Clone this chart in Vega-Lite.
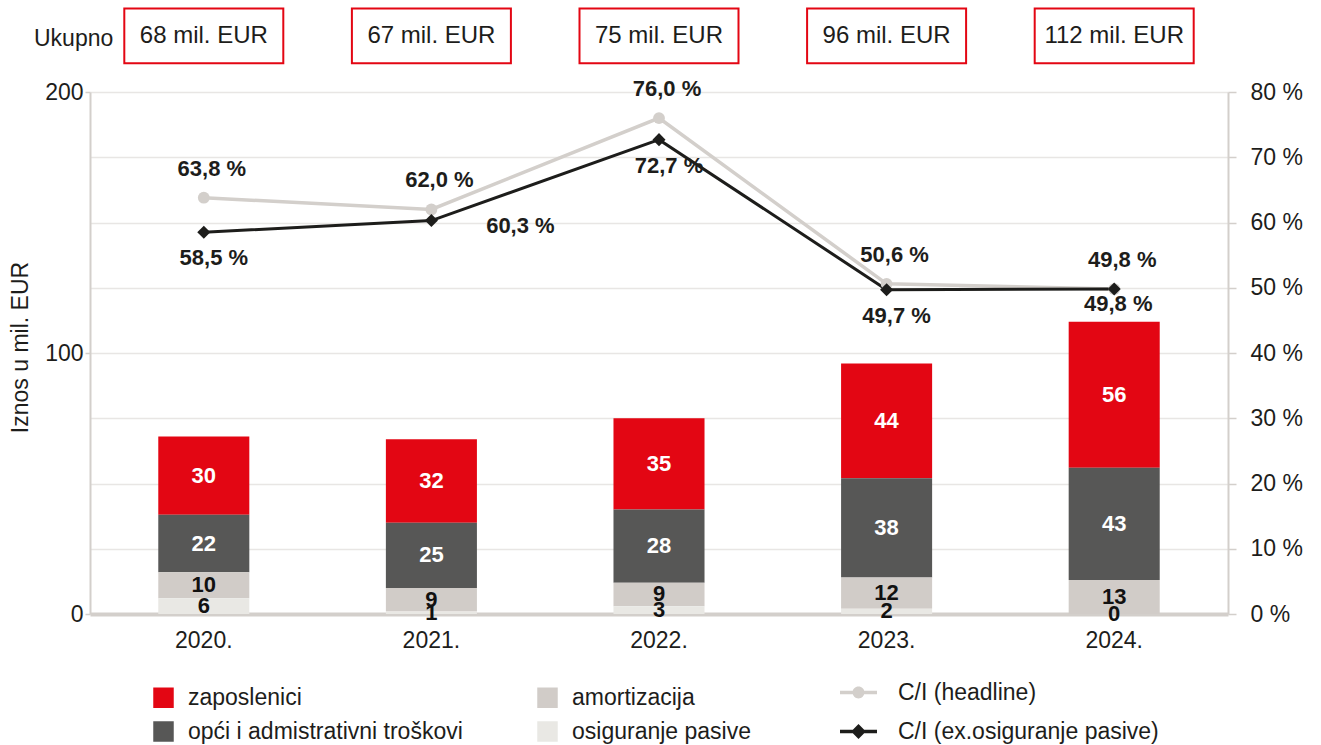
{
  "$schema": "https://vega.github.io/schema/vega-lite/v6.json",
  "width": 1138,
  "height": 522,
  "autosize": "none",
  "padding": {"left": 90, "top": 92, "right": 93, "bottom": 131},
  "background": "white",
  "config": {
    "font": "Liberation Sans",
    "view": {"stroke": null},
    "text": {"font": "Liberation Sans"},
    "axisX": {
      "labelAngle": 0, "ticks": false, "grid": false,
      "domainColor": "#d3cfcb", "domainWidth": 4,
      "labelFontSize": 23, "labelPadding": 15, "labelColor": "#1d1d1b"
    },
    "axisLeft": {
      "titleFontSize": 23, "titleFontWeight": "normal",
      "titleColor": "#1d1d1b", "titleX": -70, "titleY": 255, "titleAngle": -90,
      "titleAlign": "center", "titleBaseline": "middle",
      "domainColor": "#d3cfcb", "domainWidth": 2,
      "tickColor": "#d3cfcb", "tickSize": 5, "tickWidth": 1.5,
      "labelFontSize": 23, "labelColor": "#1d1d1b", "labelPadding": 2
    },
    "axisRight": {
      "gridColor": "#e8e6e4", "gridWidth": 1.5,
      "domainColor": "#d3cfcb", "domainWidth": 2,
      "tickColor": "#d3cfcb", "tickSize": 8, "tickWidth": 1.5,
      "labelFontSize": 23, "labelColor": "#1d1d1b", "labelPadding": 14
    }
  },
  "title": {
    "text": "Ukupno",
    "anchor": "start",
    "frame": "group",
    "orient": "top",
    "fontSize": 23,
    "fontWeight": "normal",
    "color": "#1d1d1b",
    "dx": -56,
    "offset": -44
  },
  "datasets": {
    "costs": [
      {"year": "2020.", "component": "zaposlenici", "value": 30},
      {"year": "2020.", "component": "opći i admistrativni troškovi", "value": 22},
      {"year": "2020.", "component": "amortizacija", "value": 10},
      {"year": "2020.", "component": "osiguranje pasive", "value": 6},
      {"year": "2021.", "component": "zaposlenici", "value": 32},
      {"year": "2021.", "component": "opći i admistrativni troškovi", "value": 25},
      {"year": "2021.", "component": "amortizacija", "value": 9},
      {"year": "2021.", "component": "osiguranje pasive", "value": 1},
      {"year": "2022.", "component": "zaposlenici", "value": 35},
      {"year": "2022.", "component": "opći i admistrativni troškovi", "value": 28},
      {"year": "2022.", "component": "amortizacija", "value": 9},
      {"year": "2022.", "component": "osiguranje pasive", "value": 3},
      {"year": "2023.", "component": "zaposlenici", "value": 44},
      {"year": "2023.", "component": "opći i admistrativni troškovi", "value": 38},
      {"year": "2023.", "component": "amortizacija", "value": 12},
      {"year": "2023.", "component": "osiguranje pasive", "value": 2},
      {"year": "2024.", "component": "zaposlenici", "value": 56},
      {"year": "2024.", "component": "opći i admistrativni troškovi", "value": 43},
      {"year": "2024.", "component": "amortizacija", "value": 13},
      {"year": "2024.", "component": "osiguranje pasive", "value": 0}
    ],
    "totals": [
      {"year": "2020.", "total": 68},
      {"year": "2021.", "total": 67},
      {"year": "2022.", "total": 75},
      {"year": "2023.", "total": 96},
      {"year": "2024.", "total": 112}
    ],
    "ci": [
      {"year": "2020.", "series": "C/I (headline)", "pct": 63.8},
      {"year": "2021.", "series": "C/I (headline)", "pct": 62.0},
      {"year": "2022.", "series": "C/I (headline)", "pct": 76.0},
      {"year": "2023.", "series": "C/I (headline)", "pct": 50.6},
      {"year": "2024.", "series": "C/I (headline)", "pct": 49.8},
      {"year": "2020.", "series": "C/I (ex.osiguranje pasive)", "pct": 58.5},
      {"year": "2021.", "series": "C/I (ex.osiguranje pasive)", "pct": 60.3},
      {"year": "2022.", "series": "C/I (ex.osiguranje pasive)", "pct": 72.7},
      {"year": "2023.", "series": "C/I (ex.osiguranje pasive)", "pct": 49.7},
      {"year": "2024.", "series": "C/I (ex.osiguranje pasive)", "pct": 49.8}
    ]
  },
  "layer": [
    {
      "layer": [
        {
          "data": {"name": "costs"},
          "transform": [
            {"calculate": "indexof(['osiguranje pasive','amortizacija','opći i admistrativni troškovi','zaposlenici'], datum.component)", "as": "stackOrder"}
          ],
          "mark": {"type": "bar"},
          "encoding": {
            "x": {
              "field": "year", "type": "nominal", "sort": null,
              "scale": {"paddingInner": 0.6, "paddingOuter": 0.3},
              "axis": {"title": null}
            },
            "y": {
              "field": "value", "type": "quantitative", "stack": "zero",
              "scale": {"domain": [0, 200], "nice": false},
              "axis": {"orient": "left", "values": [0, 100, 200], "grid": false, "title": "Iznos u mil. EUR"}
            },
            "color": {
              "field": "component", "type": "nominal",
              "scale": {
                "domain": ["zaposlenici", "opći i admistrativni troškovi", "amortizacija", "osiguranje pasive"],
                "range": ["#e30613", "#575756", "#d1ccc8", "#e9e8e4"]
              },
              "legend": {
                "orient": "none", "legendX": 62, "legendY": 594,
                "title": null, "columns": 2, "symbolType": "square", "symbolSize": 420,
                "symbolStrokeWidth": 0, "labelFontSize": 23, "labelColor": "#1d1d1b",
                "labelOffset": 13, "columnPadding": 73, "rowPadding": 10, "labelLimit": 400
              }
            },
            "order": {"field": "stackOrder", "type": "quantitative", "sort": "ascending"}
          }
        },
        {
          "data": {"name": "costs"},
          "transform": [
            {"calculate": "indexof(['osiguranje pasive','amortizacija','opći i admistrativni troškovi','zaposlenici'], datum.component)", "as": "stackOrder"},
            {"stack": "value", "groupby": ["year"], "sort": [{"field": "stackOrder", "order": "ascending"}], "as": ["v0", "v1"]},
            {"calculate": "(datum.v0 + datum.v1) / 2", "as": "mid"}
          ],
          "mark": {"type": "text", "fontSize": 22, "fontWeight": "bold", "baseline": "middle", "align": "center"},
          "encoding": {
            "x": {"field": "year", "type": "nominal", "sort": null, "axis": {"title": null}},
            "y": {
              "field": "mid", "type": "quantitative", "scale": {"domain": [0, 200], "nice": false},
              "axis": {"orient": "left", "values": [0, 100, 200], "grid": false, "title": "Iznos u mil. EUR"}
            },
            "text": {"field": "value", "type": "quantitative"},
            "color": {
              "condition": {"test": "datum.component === 'zaposlenici' || datum.component === 'opći i admistrativni troškovi'", "value": "#ffffff"},
              "value": "#111111"
            }
          }
        },
        {
          "data": {"name": "totals"},
          "mark": {"type": "bar", "width": 159, "fill": "#ffffff", "stroke": "#e30613", "strokeWidth": 2},
          "encoding": {
            "x": {"field": "year", "type": "nominal", "sort": null, "axis": {"title": null}},
            "y": {
              "datum": 232, "type": "quantitative", "scale": {"domain": [0, 200], "nice": false},
              "axis": {"orient": "left", "values": [0, 100, 200], "grid": false, "title": "Iznos u mil. EUR"}
            },
            "y2": {"datum": 211}
          }
        },
        {
          "data": {"name": "totals"},
          "transform": [{"calculate": "datum.total + ' mil. EUR'", "as": "label"}],
          "mark": {"type": "text", "fontSize": 24, "baseline": "middle", "align": "center", "color": "#1d1d1b"},
          "encoding": {
            "x": {"field": "year", "type": "nominal", "sort": null, "axis": {"title": null}},
            "y": {
              "datum": 221.5, "type": "quantitative", "scale": {"domain": [0, 200], "nice": false},
              "axis": {"orient": "left", "values": [0, 100, 200], "grid": false, "title": "Iznos u mil. EUR"}
            },
            "text": {"field": "label", "type": "nominal"}
          }
        }
      ]
    },
    {
      "data": {"name": "ci"},
      "transform": [{"calculate": "replace(format(datum.pct, '.1f'), '.', ',') + ' %'", "as": "label"}],
      "layer": [
        {
          "transform": [{"filter": "datum.series === 'C/I (headline)'"}],
          "mark": {"type": "line", "color": "#d3cfcb", "strokeWidth": 3.5},
          "encoding": {
            "x": {"field": "year", "type": "nominal", "sort": null, "axis": {"title": null}},
            "y": {
              "field": "pct", "type": "quantitative", "scale": {"domain": [0, 80], "nice": false},
              "axis": {"orient": "right", "values": [0, 10, 20, 30, 40, 50, 60, 70, 80], "grid": true, "title": null, "labelExpr": "datum.value + ' %'"}
            }
          }
        },
        {
          "transform": [{"filter": "datum.series === 'C/I (ex.osiguranje pasive)'"}],
          "mark": {"type": "line", "color": "#1d1d1b", "strokeWidth": 3},
          "encoding": {
            "x": {"field": "year", "type": "nominal", "sort": null, "axis": {"title": null}},
            "y": {
              "field": "pct", "type": "quantitative", "scale": {"domain": [0, 80], "nice": false},
              "axis": {"orient": "right", "values": [0, 10, 20, 30, 40, 50, 60, 70, 80], "grid": true, "title": null, "labelExpr": "datum.value + ' %'"}
            }
          }
        },
        {
          "transform": [{"filter": "datum.series === 'C/I (headline)'"}],
          "mark": {"type": "point", "shape": "circle", "filled": true, "color": "#d3cfcb", "size": 140, "opacity": 1},
          "encoding": {
            "x": {"field": "year", "type": "nominal", "sort": null, "axis": {"title": null}},
            "y": {
              "field": "pct", "type": "quantitative", "scale": {"domain": [0, 80], "nice": false},
              "axis": {"orient": "right", "values": [0, 10, 20, 30, 40, 50, 60, 70, 80], "grid": true, "title": null, "labelExpr": "datum.value + ' %'"}
            }
          }
        },
        {
          "transform": [{"filter": "datum.series === 'C/I (ex.osiguranje pasive)'"}],
          "mark": {"type": "point", "shape": "diamond", "filled": true, "color": "#1d1d1b", "size": 170, "opacity": 1},
          "encoding": {
            "x": {"field": "year", "type": "nominal", "sort": null, "axis": {"title": null}},
            "y": {
              "field": "pct", "type": "quantitative", "scale": {"domain": [0, 80], "nice": false},
              "axis": {"orient": "right", "values": [0, 10, 20, 30, 40, 50, 60, 70, 80], "grid": true, "title": null, "labelExpr": "datum.value + ' %'"}
            }
          }
        },
        {
          "mark": {"type": "point", "filled": true, "opacity": 0},
          "encoding": {
            "x": {"field": "year", "type": "nominal", "sort": null, "axis": {"title": null}},
            "y": {
              "field": "pct", "type": "quantitative", "scale": {"domain": [0, 80], "nice": false},
              "axis": {"orient": "right", "values": [0, 10, 20, 30, 40, 50, 60, 70, 80], "grid": true, "title": null, "labelExpr": "datum.value + ' %'"}
            },
            "shape": {
              "field": "series", "type": "nominal",
              "scale": {
                "domain": ["C/I (headline)", "C/I (ex.osiguranje pasive)"],
                "range": [
                  "M-1,-0.1L1,-0.1L1,0.1L-1,0.1Z M0,-0.32A0.32,0.32 0 1 1 0,0.32A0.32,0.32 0 1 1 0,-0.32Z",
                  "M-1,-0.1L1,-0.1L1,0.1L-1,0.1Z M0,-0.4L0.4,0L0,0.4L-0.4,0Z"
                ]
              },
              "legend": {
                "orient": "none", "legendX": 750, "legendY": 582, "title": null,
                "symbolSize": 1369, "symbolOpacity": 1, "symbolStrokeWidth": 0,
                "labelFontSize": 23, "labelColor": "#1d1d1b", "labelOffset": 21, "rowPadding": 8, "labelLimit": 400
              }
            },
            "fill": {
              "field": "series", "type": "nominal",
              "scale": {"domain": ["C/I (headline)", "C/I (ex.osiguranje pasive)"], "range": ["#d3cfcb", "#1d1d1b"]},
              "legend": {
                "orient": "none", "legendX": 750, "legendY": 582, "title": null,
                "symbolSize": 1369, "symbolOpacity": 1, "symbolStrokeWidth": 0,
                "labelFontSize": 23, "labelColor": "#1d1d1b", "labelOffset": 21, "rowPadding": 8, "labelLimit": 400
              }
            }
          }
        },
        {
          "transform": [{"filter": "datum.series === 'C/I (headline)'"}],
          "mark": {"type": "text", "fontSize": 22, "fontWeight": "bold", "color": "#1d1d1b", "baseline": "middle", "dx": 8, "dy": -29},
          "encoding": {
            "x": {"field": "year", "type": "nominal", "sort": null, "axis": {"title": null}},
            "y": {
              "field": "pct", "type": "quantitative", "scale": {"domain": [0, 80], "nice": false},
              "axis": {"orient": "right", "values": [0, 10, 20, 30, 40, 50, 60, 70, 80], "grid": true, "title": null, "labelExpr": "datum.value + ' %'"}
            },
            "text": {"field": "label", "type": "nominal"}
          }
        },
        {
          "transform": [{"filter": "datum.series === 'C/I (ex.osiguranje pasive)' && datum.year !== '2021.' && datum.year !== '2024.'"}],
          "mark": {"type": "text", "fontSize": 22, "fontWeight": "bold", "color": "#1d1d1b", "baseline": "middle", "dx": 10, "dy": 26},
          "encoding": {
            "x": {"field": "year", "type": "nominal", "sort": null, "axis": {"title": null}},
            "y": {
              "field": "pct", "type": "quantitative", "scale": {"domain": [0, 80], "nice": false},
              "axis": {"orient": "right", "values": [0, 10, 20, 30, 40, 50, 60, 70, 80], "grid": true, "title": null, "labelExpr": "datum.value + ' %'"}
            },
            "text": {"field": "label", "type": "nominal"}
          }
        },
        {
          "transform": [{"filter": "datum.series === 'C/I (ex.osiguranje pasive)' && datum.year === '2021.'"}],
          "mark": {"type": "text", "fontSize": 22, "fontWeight": "bold", "color": "#1d1d1b", "baseline": "middle", "dx": 89, "dy": 5},
          "encoding": {
            "x": {"field": "year", "type": "nominal", "sort": null, "axis": {"title": null}},
            "y": {
              "field": "pct", "type": "quantitative", "scale": {"domain": [0, 80], "nice": false},
              "axis": {"orient": "right", "values": [0, 10, 20, 30, 40, 50, 60, 70, 80], "grid": true, "title": null, "labelExpr": "datum.value + ' %'"}
            },
            "text": {"field": "label", "type": "nominal"}
          }
        },
        {
          "transform": [{"filter": "datum.series === 'C/I (ex.osiguranje pasive)' && datum.year === '2024.'"}],
          "mark": {"type": "text", "fontSize": 22, "fontWeight": "bold", "color": "#1d1d1b", "baseline": "middle", "dx": 4, "dy": 15},
          "encoding": {
            "x": {"field": "year", "type": "nominal", "sort": null, "axis": {"title": null}},
            "y": {
              "field": "pct", "type": "quantitative", "scale": {"domain": [0, 80], "nice": false},
              "axis": {"orient": "right", "values": [0, 10, 20, 30, 40, 50, 60, 70, 80], "grid": true, "title": null, "labelExpr": "datum.value + ' %'"}
            },
            "text": {"field": "label", "type": "nominal"}
          }
        }
      ]
    }
  ],
  "resolve": {"scale": {"y": "independent"}}
}
